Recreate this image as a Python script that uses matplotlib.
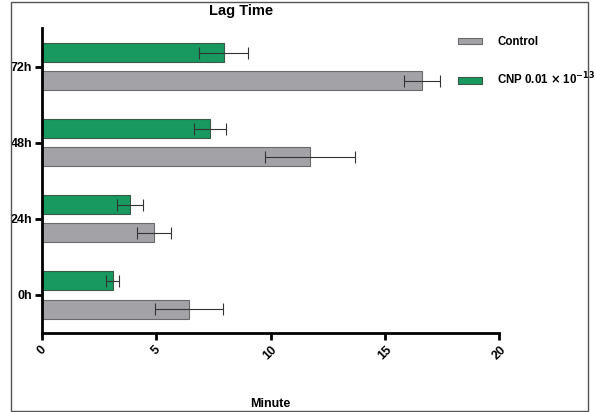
import numpy as np
import matplotlib.pyplot as plt
from matplotlib.patches import Rectangle

plt.rcParams['font.family'] = ['Liberation Sans', 'DejaVu Sans']
plt.rcParams['font.weight'] = 'bold'

groups = ['0h', '24h', '48h', '72h']
control = [6.43, 4.9, 11.73, 16.63]
control_err = [1.5, 0.75, 1.95, 0.8]
cnp = [3.1, 3.85, 7.35, 7.96]
cnp_err = [0.28, 0.57, 0.7, 1.07]


def plot():
    fig = plt.figure(figsize=(5.95, 4.12), dpi=100)
    ax = fig.add_axes([42 / 595, 1 - 333 / 412, 457 / 595, 305 / 412])

    y = np.arange(len(groups))
    h = 0.25
    off = 0.185
    ekw = dict(ecolor='#333333', elinewidth=0.8, capsize=4, capthick=0.8)
    ax.barh(y - off, control, height=h, color='#a3a3a7', edgecolor='#6a6a6a',
            linewidth=0.8, xerr=control_err, error_kw=ekw, label='Control')
    ax.barh(y + off, cnp, height=h, color='#17995f', edgecolor='#3a5a48',
            linewidth=0.8, xerr=cnp_err, error_kw=ekw,
            label=r'CNP 0.01 $\times$ 10$^{\mathbf{-13}}$')

    ax.set_xlim(0, 20)
    ax.set_ylim(-0.5, 3.51)
    ax.set_xticks([0, 5, 10, 15, 20])
    ax.set_yticks(y)
    ax.set_yticklabels(groups)
    for lab in ax.get_xticklabels():
        lab.set_rotation(45)
        lab.set_ha('center')
    ax.tick_params(axis='x', width=2, length=5, labelsize=9, pad=3)
    ax.tick_params(axis='y', width=2, length=5, labelsize=9, pad=2)
    for s in ['top', 'right']:
        ax.spines[s].set_visible(False)
    for s in ['left', 'bottom']:
        ax.spines[s].set_linewidth(2)

    fig.text(241 / 595, 1 - 11 / 412, 'Lag Time', ha='center', va='center',
             fontsize=10.5, fontweight='bold')
    fig.text(270 / 595, 1 - 404 / 412, 'Minute', ha='center', va='center',
             fontsize=9, fontweight='bold')

    leg = fig.legend(loc='upper left', bbox_to_anchor=(458 / 595, 1 - 36 / 412),
                     frameon=False, fontsize=8.3, handlelength=2.1,
                     handleheight=0.45, labelspacing=2.0, handletextpad=1.3,
                     borderpad=0, borderaxespad=0)
    for t in leg.get_texts():
        t.set_fontweight('bold')

    fig.patches.append(Rectangle((11 / 595, 1 / 412), 577 / 595, 409 / 412,
                                 transform=fig.transFigure, fill=False,
                                 edgecolor='#555555', linewidth=1))

    fig.savefig('out.png', dpi=100)


if __name__ == '__main__':
    plot()
